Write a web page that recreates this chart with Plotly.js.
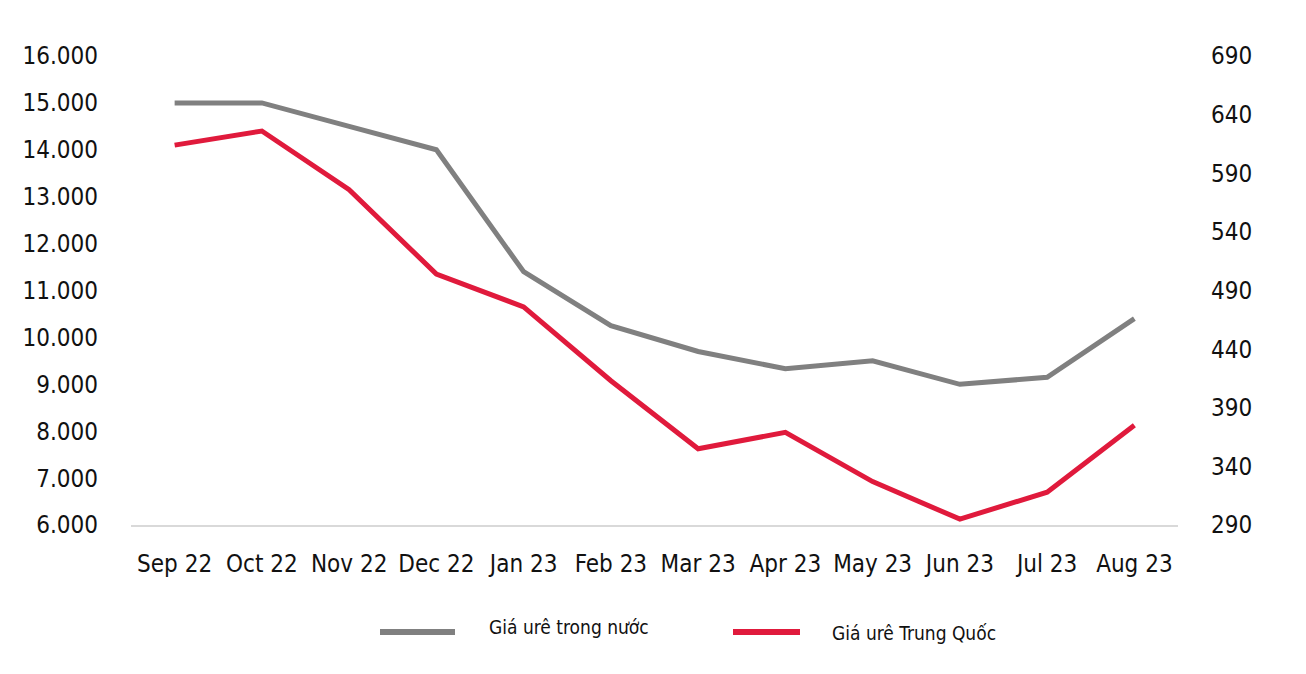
<!DOCTYPE html>
<html>
<head>
<meta charset="utf-8">
<script src="https://cdn.plot.ly/plotly-3.0.1.min.js"></script>
<style>html,body{margin:0;padding:0;background:#fff;}#chart{width:1306px;height:674px;}</style>
</head>
<body>
<div id="chart"></div>
<script>
const months = ["Sep 22","Oct 22","Nov 22","Dec 22","Jan 23","Feb 23","Mar 23","Apr 23","May 23","Jun 23","Jul 23","Aug 23"];
const domesticPrice = [15000,15000,14500,14000,11400,10250,9700,9330,9500,9000,9150,10400];
const chinaPrice = [614,626,576,504,476,413,355,369,327,295,318,375];
const leftTicks = [6000,7000,8000,9000,10000,11000,12000,13000,14000,15000,16000];
const leftTickLabels = ["6.000","7.000","8.000","9.000","10.000","11.000","12.000","13.000","14.000","15.000","16.000"];
const rightTicks = [290,340,390,440,490,540,590,640,690];
const seriesNames = ["Giá urê trong nước","Giá urê Trung Quốc"];

const FONT = '"Liberation Sans Narrow","Arial Narrow","DejaVu Sans Condensed",sans-serif';
const GREY = '#808080', RED = '#E01A3C';

const traces = [
  {x: months, y: domesticPrice, name: seriesNames[0], type: 'scatter', mode: 'lines',
   line: {color: GREY, width: 5}, yaxis: 'y', showlegend: false},
  {x: months, y: chinaPrice, name: seriesNames[1], type: 'scatter', mode: 'lines',
   line: {color: RED, width: 5}, yaxis: 'y2', showlegend: false}
];

const layout = {
  width: 1306, height: 674,
  margin: {l: 131, r: 128, t: 56, b: 149},
  paper_bgcolor: '#fff', plot_bgcolor: '#fff',
  font: {family: FONT, size: 24, color: '#111'},
  xaxis: {type: 'category', range: [-0.5, months.length - 0.5], showgrid: false, zeroline: false, showline: true,
    linecolor: '#d9d9d9', linewidth: 2, ticks: '', ticklabelstandoff: 16,
    tickfont: {family: FONT, size: 24, color: '#111'}, fixedrange: true},
  yaxis: {range: [6000, 16000], tickvals: leftTicks, ticktext: leftTickLabels,
    showgrid: false, zeroline: false, showline: false, ticks: '', ticklabelstandoff: 32,
    tickfont: {family: FONT, size: 24, color: '#111'}, fixedrange: true},
  yaxis2: {range: [290, 690], tickvals: rightTicks, overlaying: 'y', side: 'right',
    showgrid: false, zeroline: false, showline: false, ticks: '', ticklabelstandoff: 32,
    tickfont: {family: FONT, size: 24, color: '#111'}, fixedrange: true},
  showlegend: false,
  shapes: [
    {type: 'line', xref: 'paper', yref: 'paper', x0: (380-131)/1047, x1: (455-131)/1047,
     y0: (525-632)/469, y1: (525-632)/469, line: {color: GREY, width: 6}},
    {type: 'line', xref: 'paper', yref: 'paper', x0: (733-131)/1047, x1: (800-131)/1047,
     y0: (525-632)/469, y1: (525-632)/469, line: {color: RED, width: 6}}
  ],
  annotations: [
    {xref: 'paper', yref: 'paper', x: (487-131)/1047, y: (525-627)/469, xanchor: 'left', yanchor: 'middle',
     text: seriesNames[0], showarrow: false, font: {family: FONT, size: 19, color: '#111'}},
    {xref: 'paper', yref: 'paper', x: (830-131)/1047, y: (525-633)/469, xanchor: 'left', yanchor: 'middle',
     text: seriesNames[1], showarrow: false, font: {family: FONT, size: 19, color: '#111'}}
  ]
};

Plotly.newPlot('chart', traces, layout, {displayModeBar: false, staticPlot: true});
</script>
</body>
</html>
